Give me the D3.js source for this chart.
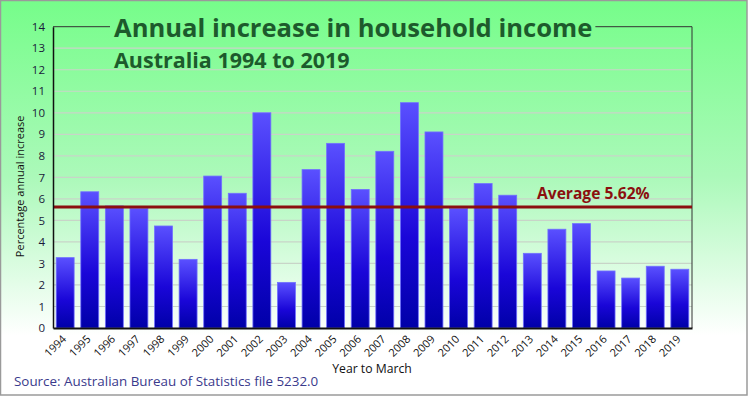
<!DOCTYPE html>
<html><head><meta charset="utf-8">
<script src="https://cdn.jsdelivr.net/npm/d3@7"></script>
<style>html,body{margin:0;padding:0;background:#fff;}svg{display:block;}</style>
</head><body>
<script>
const years = ["1994","1995","1996","1997","1998","1999","2000","2001","2002","2003","2004","2005","2006","2007","2008","2009","2010","2011","2012","2013","2014","2015","2016","2017","2018","2019"];
const increases = [3.27,6.33,5.67,5.55,4.74,3.19,7.06,6.26,10.0,2.12,7.36,8.58,6.44,8.21,10.47,9.11,5.55,6.71,6.17,3.47,4.59,4.85,2.65,2.32,2.87,2.73];
const averageValue = 5.62;
const yTicks = [0,1,2,3,4,5,6,7,8,9,10,11,12,13,14];
const titleText = "Annual increase in household income";
const subtitleText = "Australia 1994 to 2019";
const yAxisTitle = "Percentage annual increase";
const xAxisTitle = "Year to March";
const sourceText = "Source: Australian Bureau of Statistics file 5232.0";
const avgLabel = "Average 5.62%";

const W = 748, H = 396;
const m = {left: 53, right: 692, top: 26.7, bottom: 328};
const svg = d3.select("body").append("svg").attr("width", W).attr("height", H);
const defs = svg.append("defs");
const bg = defs.append("linearGradient").attr("id","bg").attr("x1",0).attr("y1",0).attr("x2",0).attr("y2",1);
bg.append("stop").attr("offset","0%").attr("stop-color","#76fd8a");
bg.append("stop").attr("offset","45%").attr("stop-color","#acf9ba");
bg.append("stop").attr("offset","85%").attr("stop-color","#ffffff");
const bar = defs.append("linearGradient").attr("id","bar").attr("x1",0).attr("y1",0).attr("x2",0).attr("y2",1);
bar.append("stop").attr("offset","0%").attr("stop-color","#5a50ff");
bar.append("stop").attr("offset","60%").attr("stop-color","#1a06d8");
bar.append("stop").attr("offset","100%").attr("stop-color","#0000a8");

svg.append("rect").attr("x",0.5).attr("y",0.5).attr("width",W-1.5).attr("height",H-1.5)
  .attr("fill","url(#bg)").attr("stroke","#9a9a9a").attr("stroke-width",1.5);

const x = d3.scaleBand().domain(years).range([m.left, m.right]).paddingInner(0.27).paddingOuter(0.13);
const y = d3.scaleLinear().domain([0,14]).range([m.bottom, m.top]);

// gridlines
svg.append("g").selectAll("line").data(yTicks.filter(t=>t>0 && t<14)).join("line")
  .attr("x1", m.left).attr("x2", m.right).attr("y1", d=>y(d)).attr("y2", d=>y(d))
  .attr("stroke","#c8d4c8").attr("stroke-width",1.2);

// bars
svg.append("g").selectAll("rect").data(increases).join("rect")
  .attr("x",(d,i)=>x(years[i])).attr("width",x.bandwidth())
  .attr("y",d=>y(d)).attr("height",d=>y(0)-y(d))
  .attr("fill","url(#bar)").attr("stroke","#7070ff").attr("stroke-width",0.8);

const font = "'Open Sans', 'Noto Sans', sans-serif";
const title = svg.append("text").attr("x",114).attr("y",37).text(titleText)
  .attr("font-family",font).attr("font-weight",700).attr("font-size",25.6).attr("fill","#1d5a2c");
const tw = title.node().getComputedTextLength();
svg.append("path").attr("d",`M${m.left},${m.top}H110M${114+tw+3},${m.top}H${m.right}V${m.bottom}`)
  .attr("fill","none").attr("stroke","#333").attr("stroke-width",1);
svg.append("text").attr("x",114).attr("y",68).text(subtitleText)
  .attr("font-family",font).attr("font-weight",700).attr("font-size",21.5).attr("fill","#1d5a2c");

// average line
svg.append("line").attr("x1",m.left).attr("x2",m.right).attr("y1",y(averageValue)).attr("y2",y(averageValue))
  .attr("stroke","#8b0f0f").attr("stroke-width",3);
svg.append("text").attr("x",537).attr("y",y(averageValue)-8).text(avgLabel)
  .attr("font-family",font).attr("font-weight",700).attr("font-size",15.6).attr("fill","#8b0f0f");

// axes
const yAxis = svg.append("g").attr("transform",`translate(${m.left},0)`)
  .call(d3.axisLeft(y).tickValues(yTicks).tickSize(0).tickPadding(8).tickFormat(d3.format("d")));
yAxis.select(".domain").attr("stroke","#111").attr("stroke-width",1.5);
yAxis.selectAll("text").attr("font-family",font).attr("font-size",11.5).attr("fill","#1a1a3a");

const xAxis = svg.append("g").attr("transform",`translate(0,${m.bottom})`)
  .call(d3.axisBottom(x).tickSize(0).tickPadding(0));
xAxis.select(".domain").attr("stroke","#111").attr("stroke-width",1.8);
xAxis.selectAll("text").attr("font-family",font).attr("font-size",11).attr("fill","#111")
  .attr("text-anchor","end").attr("x",0).attr("y",0).attr("dy","0.35em")
  .attr("transform", "translate(-1,9) rotate(-45)");

svg.append("text").attr("transform",`translate(24,${(m.top+m.bottom)/2+9}) rotate(-90)`)
  .attr("text-anchor","middle").text(yAxisTitle)
  .attr("font-family",font).attr("font-size",11).attr("fill","#111");
svg.append("text").attr("x",372).attr("y",373).attr("text-anchor","middle").text(xAxisTitle)
  .attr("font-family",font).attr("font-size",12.2).attr("fill","#111");
svg.append("text").attr("x",14).attr("y",386).text(sourceText)
  .attr("font-family",font).attr("font-size",13.4).attr("fill","#3a3a8c");
</script>
</body></html>
